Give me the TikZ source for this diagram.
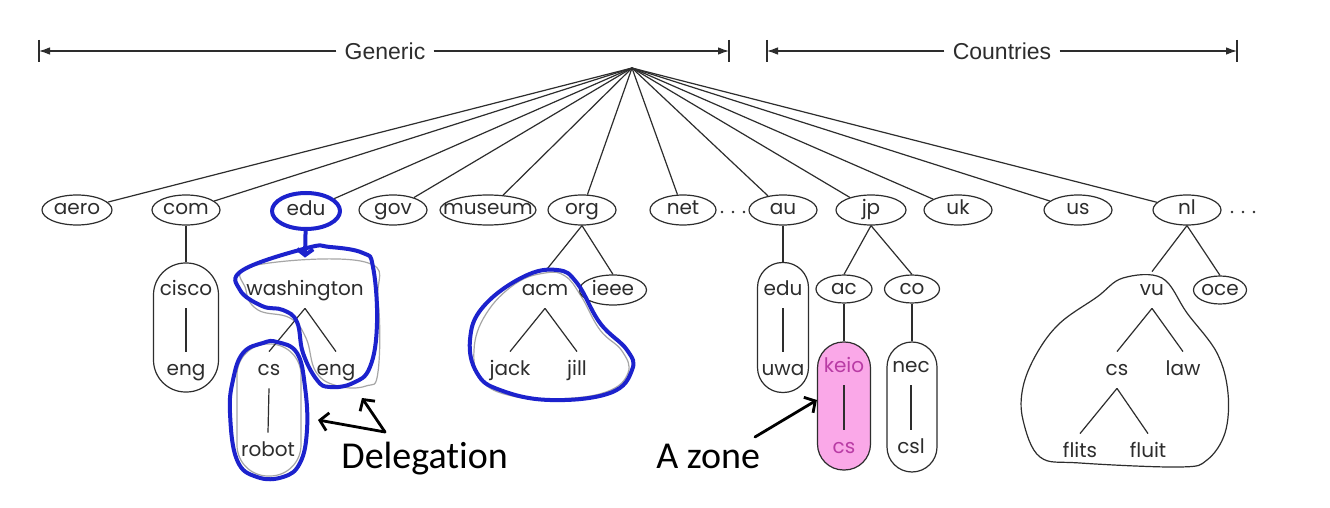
\documentclass[tikz,border=0pt]{standalone}
\usepackage{fontspec}
\setmainfont{Poppins}
\newfontfamily\slidefont[Ligatures=NoCommon]{Carlito}
\newfontfamily\headfont{Liberation Sans}
\usepackage{tikz}
\usetikzlibrary{arrows.meta,
                shapes.geometric}

\definecolor{ink}{RGB}{45,45,45}
\definecolor{penblue}{RGB}{28,34,205}
\definecolor{zonepink}{RGB}{250,168,232}
\definecolor{zonetext}{RGB}{185,60,165}

\tikzset{
  lbl/.style  = {text=ink, text height=7.5pt, text depth=2.5pt, inner sep=4pt},
  head/.style = {text=ink, inner sep=4pt, font=\headfont\fontsize{11.5}{13}\selectfont},
  dom/.style  = {draw=ink, ellipse, line width=0.6pt, minimum height=15pt, inner sep=0pt},
  pill/.style = {draw=ink, rectangle, line width=0.6pt, inner sep=0pt},
  tree/.style = {draw=ink, line width=0.6pt},
  brk/.style  = {draw=ink, line width=0.6pt, -{Latex[length=5.5pt,width=3.8pt]}},
  pen/.style  = {draw=penblue, line width=2pt, line join=round, line cap=round},
  hand/.style = {draw=black, line width=1.4pt, line cap=round, -{Straight Barb[length=4pt,width=9pt]}}
}

\begin{document}
\begin{tikzpicture}[x=0.5pt, y=-0.5pt]
\useasboundingbox[fill=white] (0,0) rectangle (1330,508);

%% header brackets
\node[head] (generic) at (385,51) {Generic};
\node[head] (countries) at (1002,51) {Countries};
\coordinate (gl) at (39,51);
\coordinate (gr) at (729,51);
\coordinate (cl) at (767,51);
\coordinate (cr) at (1237,51);
\foreach \b in {gl,gr,cl,cr}
    \draw[ink, line width=0.9pt] ([yshift=5.5pt]\b) -- ([yshift=-5.5pt]\b);
\draw[brk] (generic) -- (gl);
\draw[brk] (generic) -- (gr);
\draw[brk] (countries) -- (cl);
\draw[brk] (countries) -- (cr);

%% top level domains
\coordinate (root) at (632,68);
\foreach \d/\x/\w in {aero/77/35, com/186/34, gov/393/34, museum/488/48,
                      org/582/34, net/683/33, au/783/34, jp/871/35,
                      uk/958/34, us/1078/34, nl/1187/34} {
    \node[dom, minimum width=\w pt, label={[lbl]center:\d}] (\d) at (\x,210) {};
}
\node[dom, pen, minimum width=34pt, minimum height=18pt, label={[lbl]center:edu}] (edu) at (306,211) {};
\foreach \d in {aero,com,edu,gov,museum,org,net,au,jp,uk,us,nl}
    \draw[tree] (root) -- (\d);
\foreach \d in {722,733,744,1232,1243,1254}
    \fill[ink] (\d,212) circle (0.7pt);

%% com
\node[pill, minimum width=32.5pt, minimum height=64.5pt, rounded corners=16pt] (comz) at (186,327.5) {};
\node[lbl] (cisco) at (186,290) {cisco};
\node[lbl] (ciscoeng) at (186,370) {eng};
\draw[tree] (com) -- (comz);
\draw[tree] (cisco.south) -- (ciscoeng.north);

%% edu
\node[pill, draw=gray!70, minimum width=32pt, minimum height=66pt, rounded corners=15.5pt] (csz) at (269,410) {};
\draw[gray!70, line width=0.6pt] plot[smooth cycle, tension=0.7] coordinates
    {(252,266) (365,262) (378,300) (378,372) (366,386) (338,386) (316,372) (306,338) (290,318) (258,310) (246,290)};
\node[lbl] (wash) at (305,290) {washington};
\node[lbl] (wcs) at (269,370) {cs};
\node[lbl] (weng) at (336,370) {eng};
\node[lbl] (robot) at (268,451) {robot};
\draw[tree] (wash.south) -- (wcs.north);
\draw[tree] (wash.south) -- (weng.north);
\draw[tree] (wcs.south) -- (robot.north);

%% org
\draw[gray!70, line width=0.6pt] plot[smooth cycle, tension=0.7] coordinates
    {(545,273) (515,284) (486,314) (474,350) (482,381) (512,396) (556,399) (606,392) (628,373) (622,351) (600,330) (581,296) (565,276)};
\node[dom, minimum width=33.5pt, label={[lbl]center:ieee}] (ieee) at (613,290) {};
\node[lbl] (acm) at (545,290) {acm};
\node[lbl] (jack) at (510,370) {jack};
\node[lbl] (jill) at (577,370) {jill};
\draw[tree] (org.south) -- (acm.north);
\draw[tree] (org.south) -- (ieee.north);
\draw[tree] (acm.south) -- (jack.north);
\draw[tree] (acm.south) -- (jill.north);

%% au
\node[pill, minimum width=25.5pt, minimum height=65pt, rounded corners=12.5pt] (auz) at (783,327.5) {};
\node[lbl] (auedu) at (783,290) {edu};
\node[lbl] (uwa) at (783,370) {uwa};
\draw[tree] (au) -- (auz);
\draw[tree] (auedu.south) -- (uwa.north);

%% jp
\node[dom, minimum width=28pt, minimum height=14pt, label={[lbl]center:ac}] (ac) at (844,289) {};
\node[dom, minimum width=27.5pt, minimum height=14pt, label={[lbl]center:co}] (co) at (912,289) {};
\node[pill, fill=zonepink, minimum width=26.5pt, minimum height=64pt, rounded corners=13pt] (keioz) at (844,406) {};
\node[pill, minimum width=25pt, minimum height=65pt, rounded corners=12.5pt] (necz) at (912,407) {};
\node[lbl, text=zonetext] (keio) at (844,367) {keio};
\node[lbl, text=zonetext] (keiocs) at (844,448) {cs};
\node[lbl] (nec) at (911,367) {nec};
\node[lbl] (csl) at (911,448) {csl};
\draw[tree] (jp.south) -- (ac.north);
\draw[tree] (jp.south) -- (co.north);
\draw[tree] (ac) -- (keioz);
\draw[tree] (co) -- (necz);
\draw[tree] (keio.south) -- (keiocs.north);
\draw[tree] (nec.south) -- (csl.north);

%% nl
\draw[ink, line width=0.6pt] plot[smooth cycle, tension=0.6] coordinates
    {(1123,278) (1162,278) (1187,313) (1217,353) (1228,393) (1225,433) (1207,460) (1180,467)
     (1080,463) (1040,457) (1023,420) (1023,387) (1037,353) (1060,323) (1097,297)};
\node[dom, minimum width=26.5pt, minimum height=14pt, label={[lbl]center:oce}] (oce) at (1220,290) {};
\node[lbl] (vu) at (1152,290) {vu};
\node[lbl] (vucs) at (1117,370) {cs};
\node[lbl] (law) at (1183,370) {law};
\node[lbl] (flits) at (1080,452) {flits};
\node[lbl] (fluit) at (1148,452) {fluit};
\draw[tree] (nl.south) -- (vu.north);
\draw[tree] (nl.south) -- (oce.north);
\draw[tree] (vu.south) -- (vucs.north);
\draw[tree] (vu.south) -- (law.north);
\draw[tree] (vucs.south) -- (flits.north);
\draw[tree] (vucs.south) -- (fluit.north);

%% pen marks
\draw[pen, -{Straight Barb[length=3pt,width=8pt]}] (edu) -- ([yshift=7pt]wash.north);
\draw[pen] plot[smooth cycle, tension=0.7] coordinates
    {(307,248) (330,247) (363,253) (373,267) (377,323) (370,367) (353,383) (330,387)
     (317,380) (303,353) (297,322) (283,310) (262,306) (240,290) (243,270)};
\draw[pen] plot[smooth cycle, tension=0.7] coordinates
    {(263,343) (277,342) (297,353) (305,387) (307,430) (300,463) (283,477) (257,477)
     (237,460) (230,413) (233,380) (243,353)};
\draw[pen] plot[smooth cycle, tension=0.7] coordinates
    {(557,270) (523,277) (483,307) (470,340) (477,373) (500,390) (550,400) (610,393)
     (632,370) (627,350) (600,323) (577,283)};

%% callouts
\node[anchor=base west, font=\slidefont\fontsize{19}{22}\selectfont, inner sep=0pt] (deleg) at (341,468) {Delegation};
\node[anchor=base west, font=\slidefont\fontsize{19}{22}\selectfont, inner sep=0pt] (azone) at (656,468) {A zone};
\coordinate (dv) at (385,432);
\coordinate (dl) at (318,420);
\coordinate (du) at (362,398);
\coordinate (zt) at (755,437);
\draw[hand] (dv) -- (dl);
\draw[hand] (dv) -- (du);
\draw[hand] (zt) -- ([yshift=3pt]keioz.west);
\end{tikzpicture}
\end{document}
